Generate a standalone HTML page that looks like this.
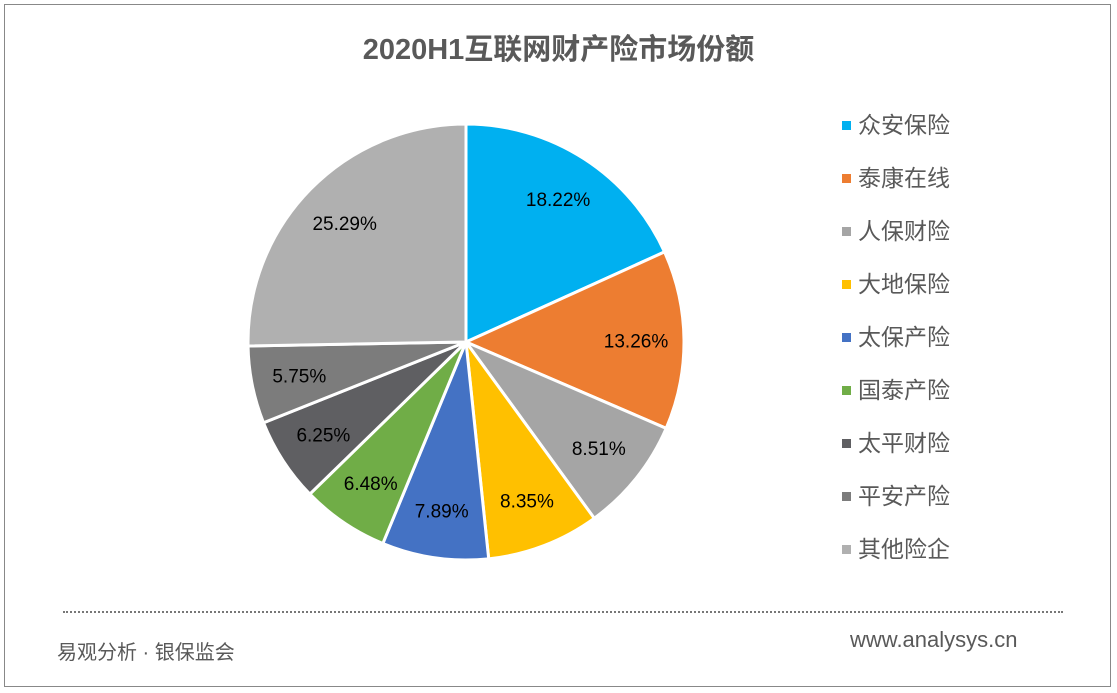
<!DOCTYPE html>
<html><head><meta charset="utf-8">
<style>
body{margin:0;width:1117px;height:693px;background:#fff;position:relative;overflow:hidden;font-family:"Liberation Sans","Noto Sans CJK SC",sans-serif;}
#frame{position:absolute;left:4px;top:4px;width:1107px;height:683px;border:1px solid #888;box-sizing:border-box;}
#title{position:absolute;left:0;width:1117px;top:26px;text-align:center;font-size:29px;font-weight:bold;color:#595959;}
.leg{position:absolute;left:842px;font-size:23px;color:#595959;height:30px;line-height:30px;}
.leg span.sq{position:absolute;left:0;top:11px;width:9px;height:9px;}
.leg span.t{position:absolute;left:16px;white-space:nowrap;}
#dots{position:absolute;left:63px;top:611px;width:1000px;border-top:2px dotted #777;}
#fl{position:absolute;left:57px;top:636px;font-size:20px;color:#595959;}
#fr{position:absolute;left:850px;top:627px;font-size:22px;color:#595959;}
</style></head><body>
<div id="frame"></div>
<div id="title">2020H1互联网财产险市场份额</div>
<svg id="pie" width="1117" height="693" style="position:absolute;left:0;top:0"></svg>
<div id="legend"></div>
<div id="dots"></div>
<div id="fl">易观分析 · 银保监会</div>
<div id="fr">www.analysys.cn</div>
<script>
const categories=["众安保险","泰康在线","人保财险","大地保险","太保产险","国泰产险","太平财险","平安产险","其他险企"];
const values=[18.22,13.26,8.51,8.35,7.89,6.48,6.25,5.75,25.29];
const colors=["#00B0F0","#ED7D31","#A5A5A5","#FFC000","#4472C4","#70AD47","#5F5F62","#7C7C7C","#B0B0B0"];
const cx=466,cy=342,r=218;
const svg=document.getElementById('pie');
const NS="http://www.w3.org/2000/svg";
const total=values.reduce((a,b)=>a+b,0);
let acc=0;
function pt(a,rr){return [cx+rr*Math.sin(a),cy-rr*Math.cos(a)];}
values.forEach((v,i)=>{
  const a0=acc/total*2*Math.PI; acc+=v; const a1=acc/total*2*Math.PI;
  const p0=pt(a0,r),p1=pt(a1,r);
  const large=(a1-a0)>Math.PI?1:0;
  const p=document.createElementNS(NS,'path');
  p.setAttribute('d',`M${cx},${cy} L${p0[0]},${p0[1]} A${r},${r} 0 ${large} 1 ${p1[0]},${p1[1]} Z`);
  p.setAttribute('fill',colors[i]);p.setAttribute('stroke','#fff');p.setAttribute('stroke-width','3');
  
  
  svg.appendChild(p);
  const m=(a0+a1)/2, lp=pt(m,r*0.78);
  const t=document.createElementNS(NS,'text');
  t.setAttribute('x',lp[0]);t.setAttribute('y',lp[1]+7);t.setAttribute('text-anchor','middle');
  t.setAttribute('font-size','19');t.setAttribute('fill','#000');
  t.setAttribute('font-family','"Liberation Sans",sans-serif');
  t.textContent=v.toFixed(2)+'%';
  
  
  svg.appendChild(t);
});
const lg=document.getElementById('legend');
categories.forEach((c,i)=>{
  const d=document.createElement('div');d.className='leg';d.style.top=(110+i*53)+'px';
  
  
  d.innerHTML='<span class="sq" style="background:'+colors[i]+'"></span><span class="t">'+c+'</span>';
  lg.appendChild(d);
});
</script>
</body></html>
